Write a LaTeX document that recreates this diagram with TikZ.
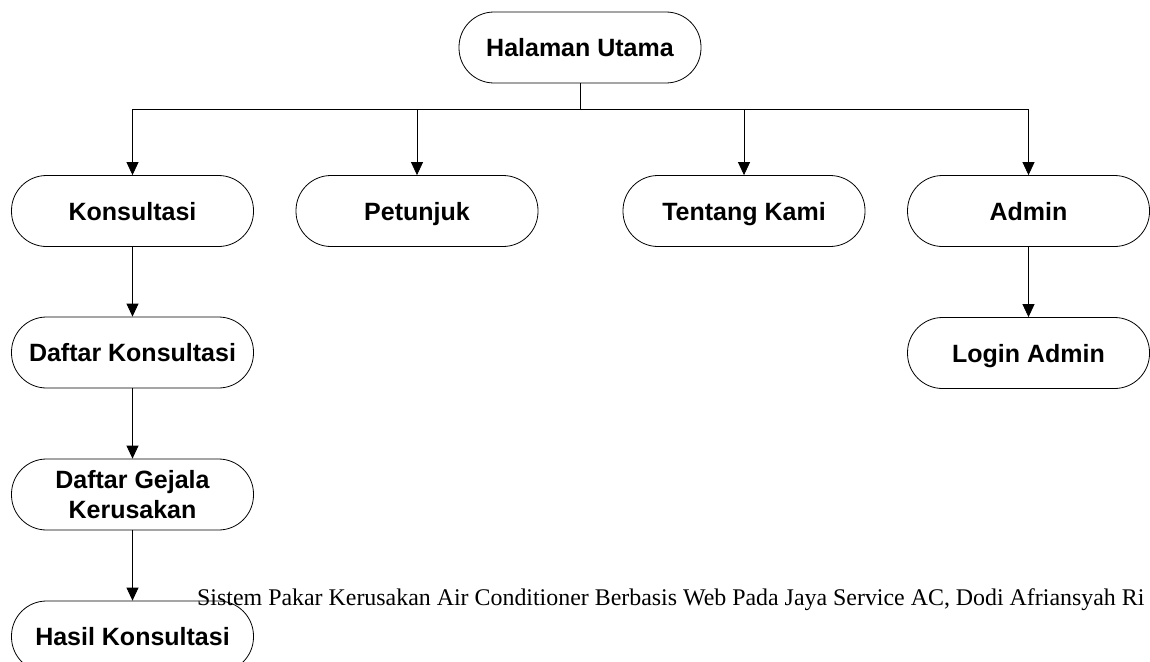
\documentclass[tikz,border=0pt]{standalone}
\usepackage{fontspec}
\setmainfont{Liberation Serif}
\newfontfamily\menufont{Liberation Sans}
\usetikzlibrary{arrows.meta}
\begin{document}
\begin{tikzpicture}[x=1pt,y=-1pt,
  menubase/.style={draw,line width=0.8pt,rectangle,rounded corners=35pt,minimum width=242pt,minimum height=71pt,
    align=center,font=\menufont\bfseries\fontsize{25}{30}\selectfont},
  menu/.style={menubase,text height=18pt,text depth=0pt},
  conn/.style={line width=0.8pt},
  arr/.style={line width=0.8pt,-{Triangle[width=12pt,length=13pt]}}]
\useasboundingbox (0,0) rectangle (1150,661);
\node[menu] (utama) at (580,47.5) {Halaman Utama};
\node[menu] (konsul) at (132.5,211) {Konsultasi};
\node[menu] (petunjuk) at (417,211) {Petunjuk};
\node[menu] (tentang) at (744,211) {Tentang Kami};
\node[menu] (admin) at (1028.5,211) {Admin};
\node[menu] (daftar) at (132.5,352.5) {Daftar Konsultasi};
\node[menu] (login) at (1028.5,353) {Login Admin};
\node[menubase] (gejala) at (132.5,494.5) {Daftar Gejala\\Kerusakan};
\node[menu] (hasil) at (132.5,636.5) {Hasil Konsultasi};
\coordinate (bus) at (580,109);
\draw[conn] (utama) -- (bus);
\draw[arr] (bus) -| (konsul);
\draw[arr] (bus) -| (petunjuk);
\draw[arr] (bus) -| (tentang);
\draw[arr] (bus) -| (admin);
\draw[arr] (konsul) -- (daftar);
\draw[arr] (daftar) -- (gejala);
\draw[arr] (gejala) -- (hasil);
\draw[arr] (admin) -- (login);
\node[anchor=base west,inner sep=0pt,font=\fontsize{23.9}{28}\selectfont] (judul) at (197,605) {Sistem Pakar Kerusakan Air Conditioner Berbasis Web Pada Jaya Service AC, Dodi Afriansyah Ri};
\end{tikzpicture}
\end{document}
